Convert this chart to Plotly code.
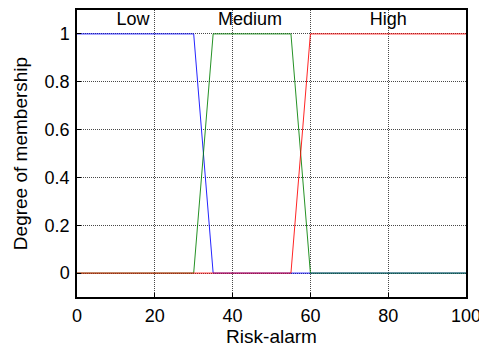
import plotly.graph_objects as go

x_low = [0, 30, 35, 100]
y_low = [1, 1, 0, 0]
x_med = [0, 30, 35, 55, 60, 100]
y_med = [0, 0, 1, 1, 0, 0]
x_high = [0, 55, 60, 100]
y_high = [0, 0, 1, 1]
labels = ["Low", "Medium", "High"]
label_x = [14.4, 44.5, 80]
label_y = [1.055, 1.055, 1.055]
xticks = [0, 20, 40, 60, 80, 100]
yticks = [0, 0.2, 0.4, 0.6, 0.8, 1]

FONT = "Liberation Sans, Arial"

fig = go.Figure()
fig.add_trace(go.Scatter(x=x_low, y=y_low, mode="lines", line=dict(color="blue", width=1), opacity=0.85))
fig.add_trace(go.Scatter(x=x_med, y=y_med, mode="lines", line=dict(color="green", width=1), opacity=0.85))
fig.add_trace(go.Scatter(x=x_high, y=y_high, mode="lines", line=dict(color="red", width=1), opacity=0.85))
fig.add_trace(go.Scatter(x=label_x, y=label_y, mode="text", text=labels,
                         textfont=dict(size=18, color="black", family=FONT)))

axis_common = dict(showline=True, linecolor="black", linewidth=1.5, mirror=True,
                   ticks="inside", ticklen=4, tickcolor="black", automargin=False,
                   showgrid=True, gridcolor="rgba(40,40,40,0.85)", griddash="1px,1px", gridwidth=1,
                   zeroline=False, tickfont=dict(size=18, color="black", family=FONT),
                   title_font=dict(size=19, color="black", family=FONT))

fig.update_xaxes(range=[0, 100], tickvals=xticks, title_text="Risk-alarm",
                 title_standoff=2, ticklabelstandoff=2, **axis_common)
fig.update_yaxes(range=[-0.1, 1.1], tickvals=yticks, ticktext=["0", "0.2", "0.4", "0.6", "0.8", "1"],
                 title_text="Degree of membership", title_standoff=12, ticklabelstandoff=2, **axis_common)

# page body has an 8px margin, so the figure is sized/offset to compensate
fig.update_layout(width=479, height=343, margin=dict(l=69, r=21, t=2, b=54),
                  plot_bgcolor="white", paper_bgcolor="white", showlegend=False,
                  font=dict(family=FONT, color="black"))

fig.write_html("out.html")
